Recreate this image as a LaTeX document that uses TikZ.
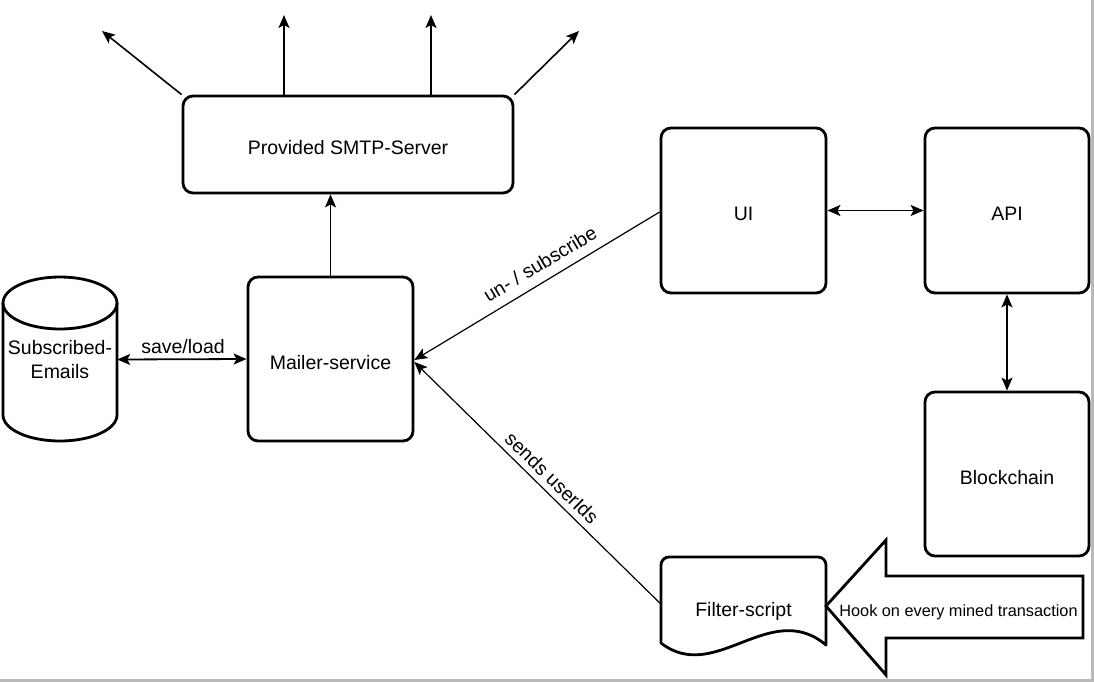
\documentclass[tikz,border=0pt]{standalone}
\usepackage{fontspec}
\setmainfont{Liberation Sans}
\usetikzlibrary{arrows.meta}
\tikzset{
  box/.style={draw, line width=2.8pt, rounded corners=10pt, inner sep=0pt, align=center, text height=20pt, text depth=0pt, font=\fontsize{19.5}{24.5}\selectfont},
  lbl/.style={inner sep=1pt, font=\fontsize{19.5}{24.5}\selectfont},
  tip/.style={-{Stealth[length=13pt,width=11pt,inset=3pt]}},
  dtip/.style={{Stealth[length=13pt,width=11pt,inset=3pt]}-{Stealth[length=13pt,width=11pt,inset=3pt]}},
  thick conn/.style={line width=1.8pt},
  thin conn/.style={line width=1.2pt},
  shapeline/.style={line width=2.8pt, line join=round}
}
\begin{document}
\begin{tikzpicture}[x=1pt,y=-1pt]
\useasboundingbox (0,0) rectangle (1094,682);
\draw[gray!55, line width=2.5pt] (0,680.5) -- (1092.5,680.5) -- (1092.5,0);

% boxes
\node[box, minimum width=330, minimum height=97] (smtp) at (348,144.5) {Provided SMTP-Server};
\node[box, minimum width=165, minimum height=164] (mailer) at (330.5,359) {Mailer-service};
\node[box, minimum width=165, minimum height=165] (ui) at (743.5,210.5) {UI};
\node[box, minimum width=164, minimum height=165] (api) at (1007,210.5) {API};
\node[box, minimum width=164, minimum height=164] (bc) at (1007,474) {Blockchain};

% cylinder
\draw[shapeline] (3,303) -- (3,415) arc[start angle=180, end angle=360, x radius=57pt, y radius=26pt] -- (117,303);
\draw[shapeline] (60,303) ellipse [x radius=57pt, y radius=26pt];
\node[lbl, align=center, minimum width=114, minimum height=164] (db) at (60,359.5) {Subscribed-\\Emails};

% document shape
\draw[shapeline] (661,643) -- (661,565) arc[start angle=180, end angle=90, radius=8pt] -- (818,557) arc[start angle=90, end angle=0, radius=8pt] -- (826,645) .. controls (770,598) and (715,685) .. (661,643) -- cycle;
\node[lbl, minimum width=165, minimum height=80] (filter) at (743.5,611) {Filter-script};

% big hook arrow
\draw[shapeline, line join=miter] (826,606) -- (886,540) -- (886,576) -- (1083,576) -- (1083,638) -- (886,638) -- (886,675) -- cycle;
\node[inner sep=0pt, font=\fontsize{16.3}{19}\selectfont] (hook) at (958.5,612) {Hook on every mined transaction};

% top arrows
\coordinate (t1) at (102,31);
\coordinate (t2) at (284,15);
\coordinate (t3) at (431,15);
\coordinate (t4) at (579,31);
\draw[tip, line width=1.6pt] (smtp.north west) -- (t1);
\draw[tip, thick conn] (t2 |- smtp.north) -- (t2);
\draw[tip, thick conn] (t3 |- smtp.north) -- (t3);
\draw[tip, line width=1.6pt] (smtp.north east) -- (t4);

% connectors
\draw[tip, thick conn] (mailer.north) -- (mailer.north |- smtp.south);
\draw[dtip, thick conn] (db.east) -- (mailer.west);
\node[lbl] (saveload) at (183,347) {save/load};
\draw[dtip, thick conn] (ui.east) -- (api.west);
\draw[dtip, thick conn] (api.south) -- (bc.north);
\draw[tip, thin conn] ([yshift=-1.5pt]ui.west) -- ([yshift=-1pt]mailer.east);
\node[lbl, rotate=30.8] (unsub) at (540,264) {un- / subscribe};
\draw[tip, thin conn] ([yshift=7pt]filter.west) -- ([yshift=-3pt]mailer.east);
\node[lbl, rotate=-44.3] (sends) at (552,478) {sends userIds};
\end{tikzpicture}
\end{document}
